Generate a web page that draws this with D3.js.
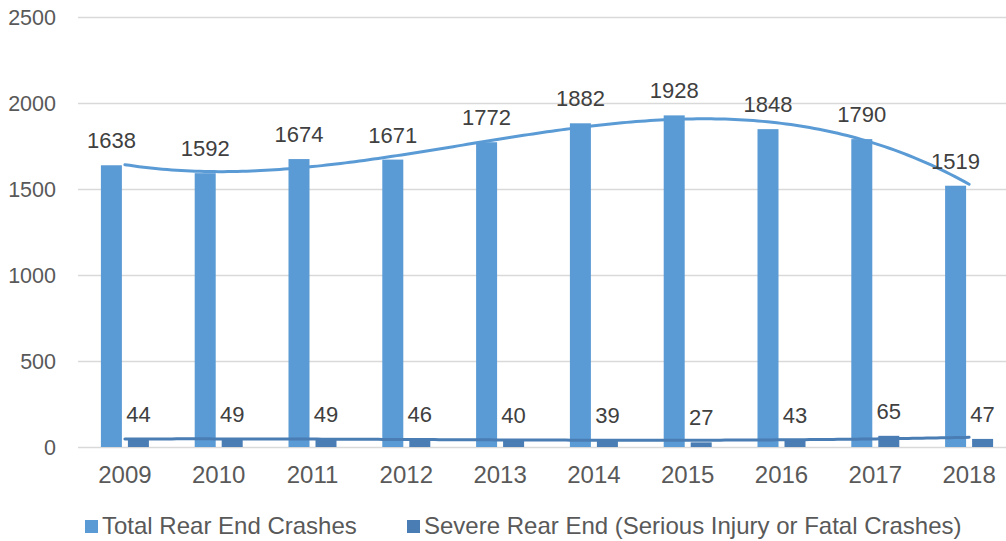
<!DOCTYPE html>
<html>
<head>
<meta charset="utf-8">
<script src="https://cdn.jsdelivr.net/npm/d3@7"></script>
<style>
  body { margin: 0; background: #fff; }
  svg { display: block; font-family: "Liberation Sans", Arial, sans-serif; }
</style>
</head>
<body>
<svg id="chart" width="1006" height="541"></svg>
<script>
const years = ["2009", "2010", "2011", "2012", "2013", "2014", "2015", "2016", "2017", "2018"];
const totalCrashes = [1638, 1592, 1674, 1671, 1772, 1882, 1928, 1848, 1790, 1519];
const severeCrashes = [44, 49, 49, 46, 40, 39, 27, 43, 65, 47];
const yTicks = [0, 500, 1000, 1500, 2000, 2500];
const seriesNames = ["Total Rear End Crashes", "Severe Rear End (Serious Injury or Fatal Crashes)"];

const colTotal = "#5b9bd5";
const colSevere = "#4a7db4";

const svg = d3.select("#chart");

const x = d3.scaleBand().domain(years).range([78, 1016]);
const y = d3.scaleLinear().domain([0, 2500]).range([447, 17]);
const barW = 21, gap = 6;

// gridlines
svg.append("g")
  .selectAll("line")
  .data(yTicks)
  .join("line")
  .attr("x1", 78).attr("x2", 1006)
  .attr("y1", d => y(d) + 0.5).attr("y2", d => y(d) + 0.5)
  .attr("stroke", "#d9d9d9").attr("stroke-width", 1.5);

// y tick labels
svg.append("g")
  .selectAll("text")
  .data(yTicks)
  .join("text")
  .attr("x", 56).attr("y", d => y(d) + 8)
  .attr("text-anchor", "end")
  .attr("font-size", 21.5).attr("fill", "#595959")
  .text(d => d);

// x labels
svg.append("g")
  .selectAll("text")
  .data(years)
  .join("text")
  .attr("x", d => x(d) + x.bandwidth() / 2).attr("y", 483)
  .attr("text-anchor", "middle")
  .attr("font-size", 24).attr("fill", "#595959")
  .text(d => d);

const cx = d => x(d) + x.bandwidth() / 2;

// bars
svg.append("g")
  .selectAll("rect")
  .data(years)
  .join("rect")
  .attr("x", d => cx(d) - gap / 2 - barW)
  .attr("width", barW)
  .attr("y", (d, i) => y(totalCrashes[i]))
  .attr("height", (d, i) => y(0) - y(totalCrashes[i]))
  .attr("fill", colTotal);

svg.append("g")
  .selectAll("rect")
  .data(years)
  .join("rect")
  .attr("x", d => cx(d) + gap / 2)
  .attr("width", barW)
  .attr("y", (d, i) => y(severeCrashes[i]))
  .attr("height", (d, i) => y(0) - y(severeCrashes[i]))
  .attr("fill", colSevere);

// polynomial (order 3) least squares trendline, x = 1..n like Excel
function polyFit(vals, order) {
  const n = order + 1;
  const A = [], b = [];
  for (let r = 0; r < n; r++) {
    A.push(new Array(n).fill(0));
    b.push(0);
  }
  vals.forEach((v, i) => {
    const t = i + 1;
    for (let r = 0; r < n; r++) {
      for (let c = 0; c < n; c++) A[r][c] += Math.pow(t, r + c);
      b[r] += v * Math.pow(t, r);
    }
  });
  for (let p = 0; p < n; p++) {
    let m = p;
    for (let r = p + 1; r < n; r++) if (Math.abs(A[r][p]) > Math.abs(A[m][p])) m = r;
    [A[p], A[m]] = [A[m], A[p]];
    [b[p], b[m]] = [b[m], b[p]];
    for (let r = p + 1; r < n; r++) {
      const f = A[r][p] / A[p][p];
      for (let c = p; c < n; c++) A[r][c] -= f * A[p][c];
      b[r] -= f * b[p];
    }
  }
  const coef = new Array(n).fill(0);
  for (let r = n - 1; r >= 0; r--) {
    let s = b[r];
    for (let c = r + 1; c < n; c++) s -= A[r][c] * coef[c];
    coef[r] = s / A[r][r];
  }
  return t => coef.reduce((acc, c, k) => acc + c * Math.pow(t, k), 0);
}

const step = x.step();
const x0 = cx(years[0]);
function trend(vals, color) {
  const f = polyFit(vals, 3);
  const pts = d3.range(1, vals.length + 0.001, 0.05).map(t => [x0 + (t - 1) * step, y(f(t))]);
  svg.append("path")
    .attr("d", d3.line()(pts))
    .attr("fill", "none")
    .attr("stroke", color)
    .attr("stroke-width", 3)
    .attr("stroke-linecap", "round");
}
trend(totalCrashes, colTotal);
trend(severeCrashes, colSevere);

// data labels
svg.append("g")
  .selectAll("text")
  .data(years)
  .join("text")
  .attr("x", d => cx(d) - gap / 2 - barW / 2)
  .attr("y", (d, i) => y(totalCrashes[i]) - 17)
  .attr("text-anchor", "middle")
  .attr("font-size", 22).attr("fill", "#404040")
  .text((d, i) => totalCrashes[i]);

svg.append("g")
  .selectAll("text")
  .data(years)
  .join("text")
  .attr("x", d => cx(d) + gap / 2 + barW / 2)
  .attr("y", (d, i) => y(severeCrashes[i]) - 17)
  .attr("text-anchor", "middle")
  .attr("font-size", 22).attr("fill", "#404040")
  .text((d, i) => severeCrashes[i]);

// legend
const legend = [
  { name: seriesNames[0], color: colTotal, x: 85 },
  { name: seriesNames[1], color: colSevere, x: 407 }
];
const lg = svg.append("g").selectAll("g").data(legend).join("g");
lg.append("rect")
  .attr("x", d => d.x).attr("y", 520)
  .attr("width", 13).attr("height", 13)
  .attr("fill", d => d.color);
lg.append("text")
  .attr("x", d => d.x + 17).attr("y", 534)
  .attr("font-size", 24).attr("fill", "#595959")
  .text(d => d.name);
</script>
</body>
</html>
